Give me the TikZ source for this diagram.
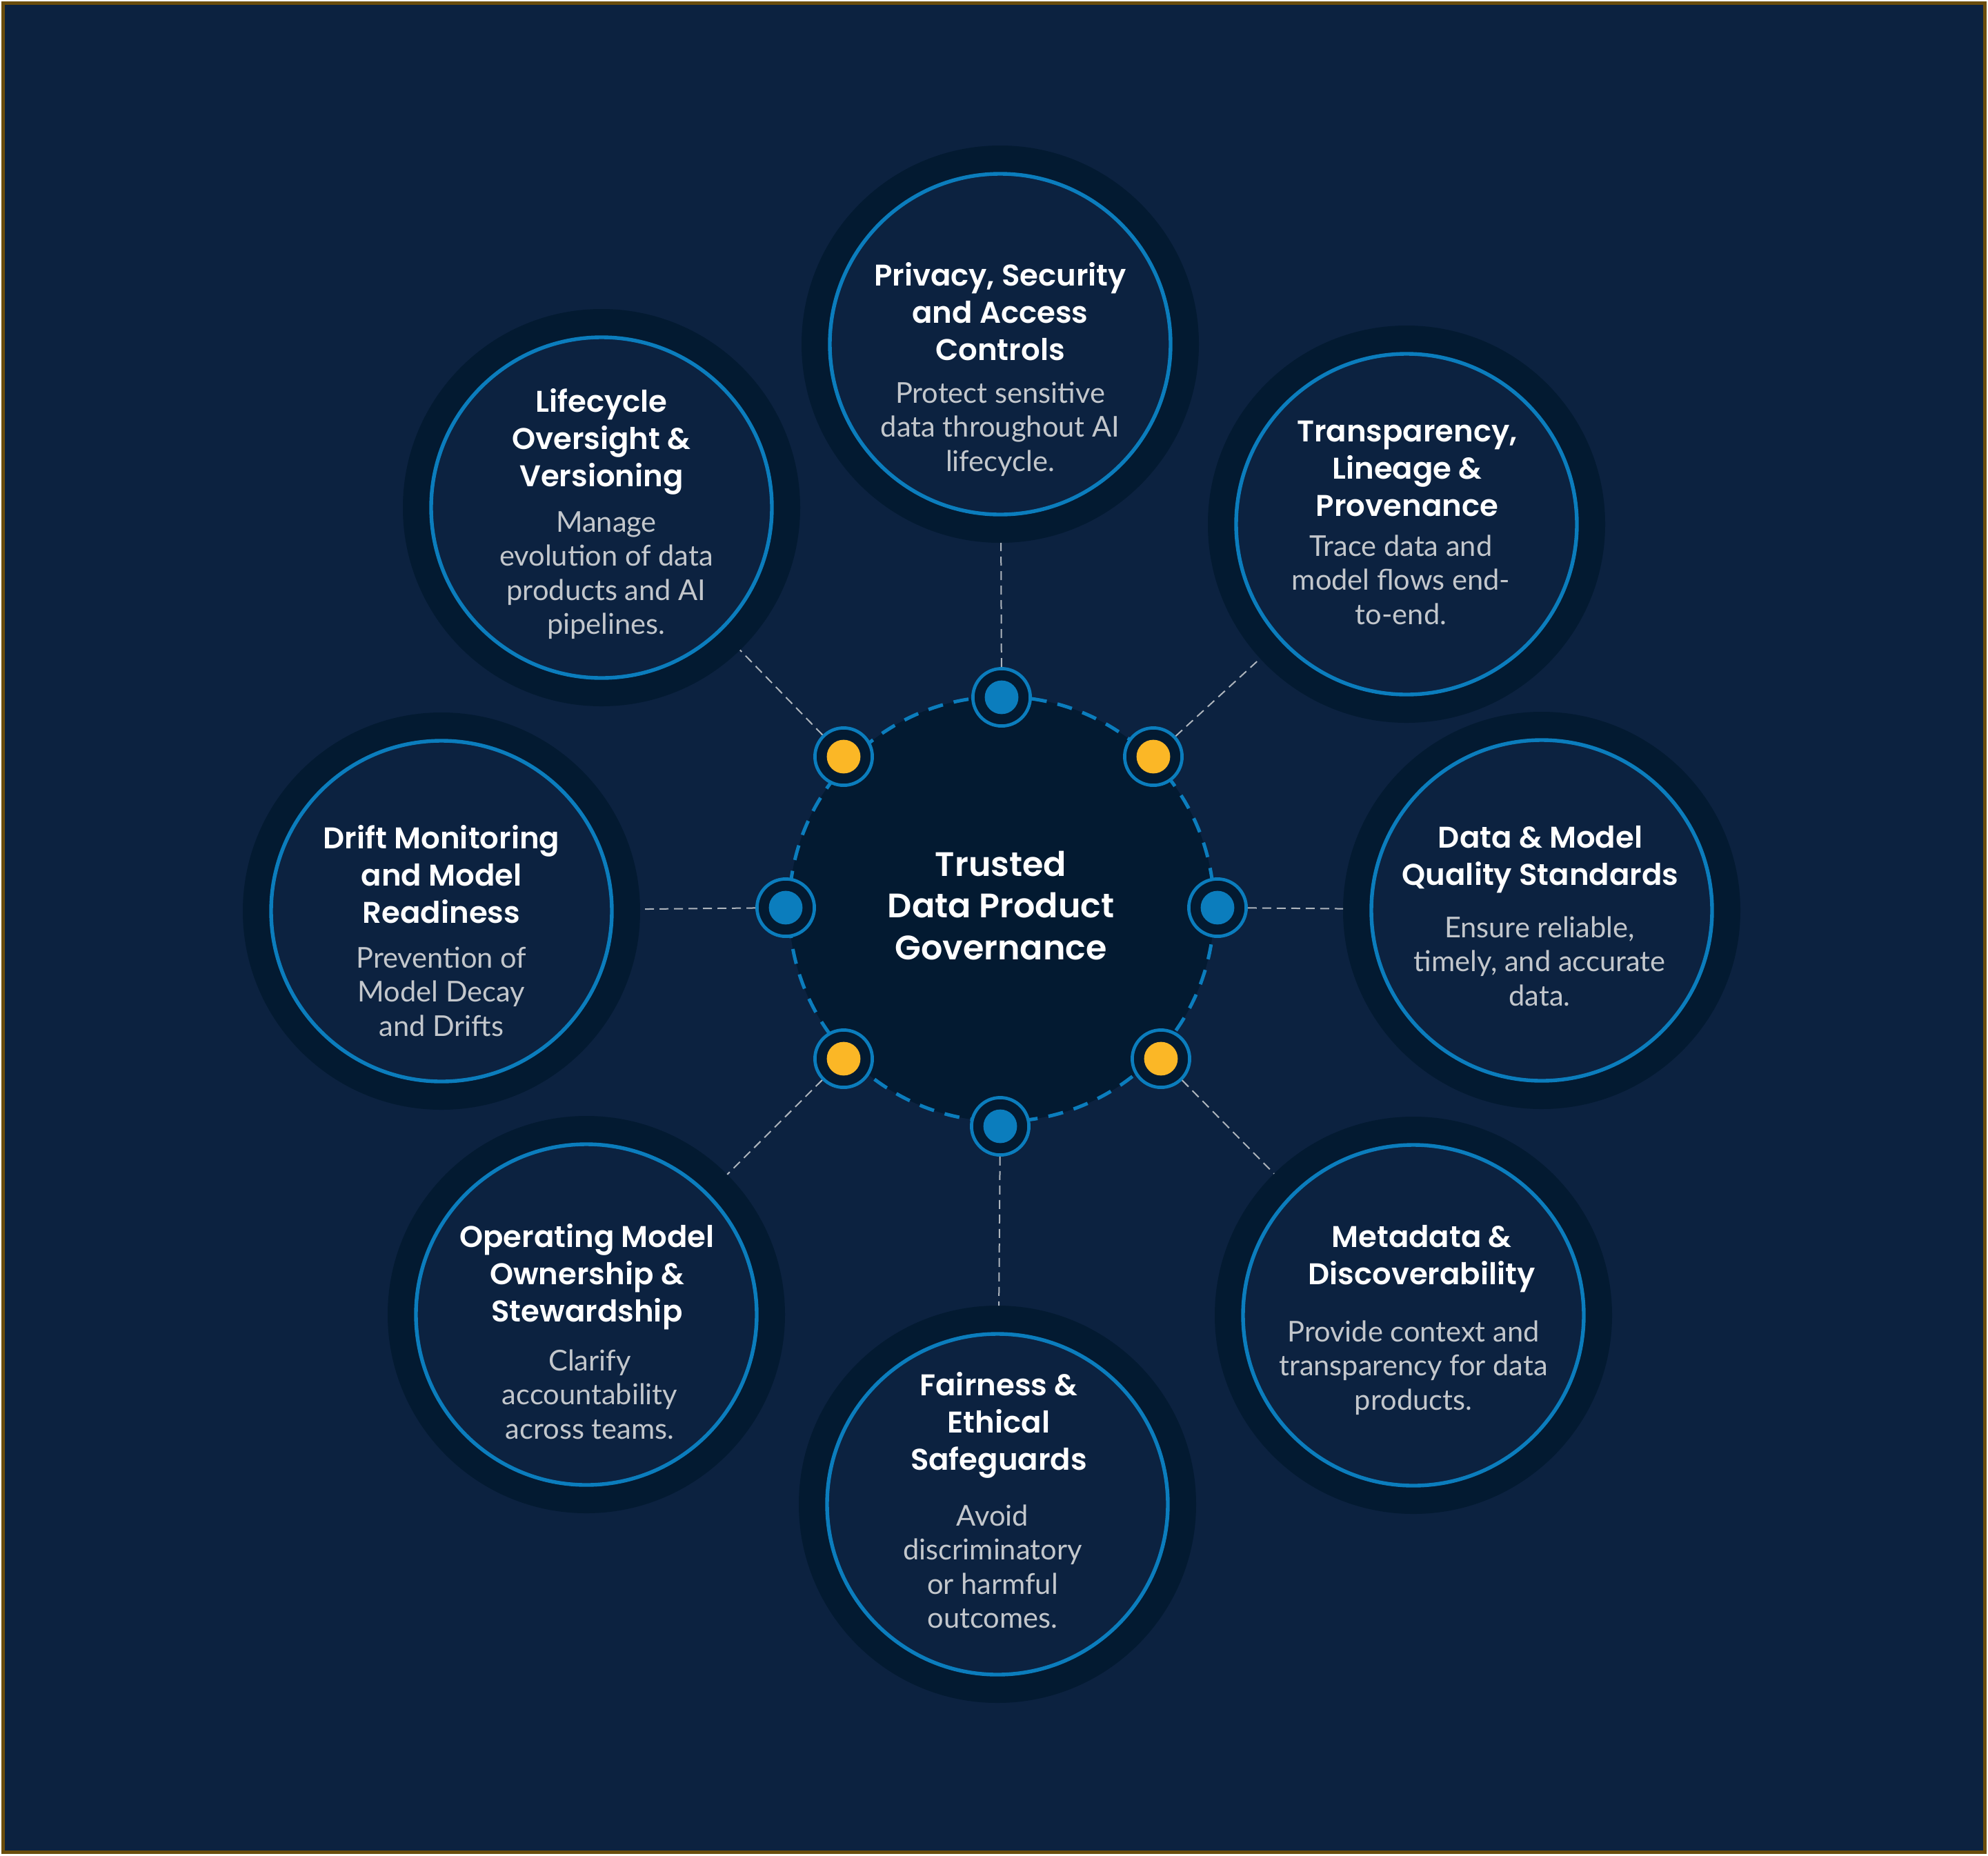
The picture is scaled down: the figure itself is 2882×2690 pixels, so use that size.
\documentclass[tikz,border=0pt]{standalone}
\usepackage{fontspec}
\newfontfamily\tfont{Poppins SemiBold}
\newfontfamily\bfont{Lato}
\definecolor{bg}{HTML}{0C2240}
\definecolor{deep}{HTML}{031A31}
\definecolor{ringblue}{HTML}{0B7DBD}
\definecolor{gold}{HTML}{FBB726}
\definecolor{bodygray}{HTML}{C3C7CC}
\definecolor{conngray}{HTML}{AEB5BD}
\definecolor{framebrown}{HTML}{6B4D0C}
\newcommand\lns[1]{\begin{tabular}[t]{@{}c@{}}#1\end{tabular}}
\begin{document}
\begin{tikzpicture}[x=0.25pt,y=-0.25pt,
  sat/.style={circle,fill=deep,minimum size=144pt,inner sep=0pt,outer sep=0pt},
  satring/.style={draw=ringblue,fill=bg,line width=1.35pt},
  hub/.style={circle,fill=deep,draw=ringblue,line width=1.25pt,dash pattern=on 5.5pt off 4pt,minimum size=154pt,inner sep=0pt},
  port/.style={circle,fill=deep,draw=ringblue,line width=1.18pt,minimum size=20.8pt,inner sep=0pt},
  conn/.style={draw=conngray,line width=0.5pt,dash pattern=on 3.25pt off 2pt},
  ttl/.style={anchor=base,inner sep=0pt,text=white,font=\tfont\fontsize{10.85}{13.6}\selectfont},
  dsc/.style={anchor=base,inner sep=0pt,text=bodygray,font=\bfont\fontsize{10.4}{12.4}\selectfont},
  hubtxt/.style={anchor=base,inner sep=0pt,text=white,font=\tfont\fontsize{12.3}{15.2}\selectfont},
]
\useasboundingbox (0,0) rectangle (2882,2690);
\fill[white] (0,0) rectangle (2882,2690);
\fill[bg] (2,2) rectangle (2880,2688);
\draw[framebrown,line width=1.25pt] (4.5,4.5) rectangle (2877.5,2685.5);

% hub
\node[hub] (hub) at (1452,1318) {};

% satellites
\node[sat] (s1) at (1450,499) {};
\node[sat] (s2) at (2039,760) {};
\node[sat] (s3) at (2235,1320) {};
\node[sat] (s4) at (2049,1907) {};
\node[sat] (s5) at (1446,2181) {};
\node[sat] (s6) at (850,1906) {};
\node[sat] (s7) at (640,1321) {};
\node[sat] (s8) at (872,736) {};
\foreach \s in {s1,s2,s3,s4,s5,s6,s7,s8}{
  \draw[satring] (\s.center) circle (61.75pt);
}

% ports
\node[port] (p1) at (1452,1011) {};
\node[port] (p2) at (1672,1097) {};
\node[port] (p3) at (1765,1316) {};
\node[port] (p4) at (1683,1535) {};
\node[port] (p5) at (1450,1633) {};
\node[port] (p6) at (1223,1535) {};
\node[port] (p7) at (1139,1316) {};
\node[port] (p8) at (1223,1097) {};
\foreach \p in {p1,p3,p5,p7}{ \fill[ringblue] (\p.center) circle (6.1pt); }
\foreach \p in {p2,p4,p6,p8}{ \fill[gold] (\p.center) circle (6.1pt); }

% connectors
\foreach \i in {1,...,8}{ \draw[conn] (p\i) -- (s\i); }

% hub text
\node[hubtxt] (hubt) at (1451,1270) {\lns{Trusted\\Data Product\\Governance}};

% satellite texts
\node[ttl] (t1) at (1450,414) {\lns{Privacy, Security\\and Access\\Controls}};
\node[dsc] (d1) at (1450,584) {\lns{Protect sensitive\\data throughout AI\\lifecycle.}};

\node[ttl] (t2) at (2040,640) {\lns{Transparency,\\Lineage \&\\Provenance}};
\node[dsc] (d2) at (2031,806) {\lns{Trace data and\\model flows end-\\to-end.}};

\node[ttl] (t3) at (2233,1229) {\lns{Data \& Model\\Quality Standards}};
\node[dsc] (d3) at (2232,1359) {\lns{Ensure reliable,\\timely, and accurate\\data.}};

\node[ttl] (t4) at (2061,1808) {\lns{Metadata \&\\Discoverability}};
\node[dsc] (d4) at (2049,1945) {\lns{Provide context and\\transparency for data\\products.}};

\node[ttl] (t5) at (1448,2023) {\lns{Fairness \&\\Ethical\\Safeguards}};
\node[dsc] (d5) at (1439,2212) {\lns{Avoid\\discriminatory\\or harmful\\outcomes.}};

\node[ttl] (t6) at (851,1808) {\lns{Operating Model\\Ownership \&\\Stewardship}};
\node[dsc] (d6) at (855,1987) {\lns{Clarify\\accountability\\across teams.}};

\node[ttl] (t7) at (640,1230) {\lns{Drift Monitoring\\and Model\\Readiness}};
\node[dsc] (d7) at (640,1403) {\lns{Prevention of\\Model Decay\\and Drifts}};

\node[ttl] (t8) at (872,597) {\lns{Lifecycle\\Oversight \&\\Versioning}};
\node[dsc] (d8) at (879,771) {\lns{Manage\\evolution of data\\products and AI\\pipelines.}};
\end{tikzpicture}
\end{document}
